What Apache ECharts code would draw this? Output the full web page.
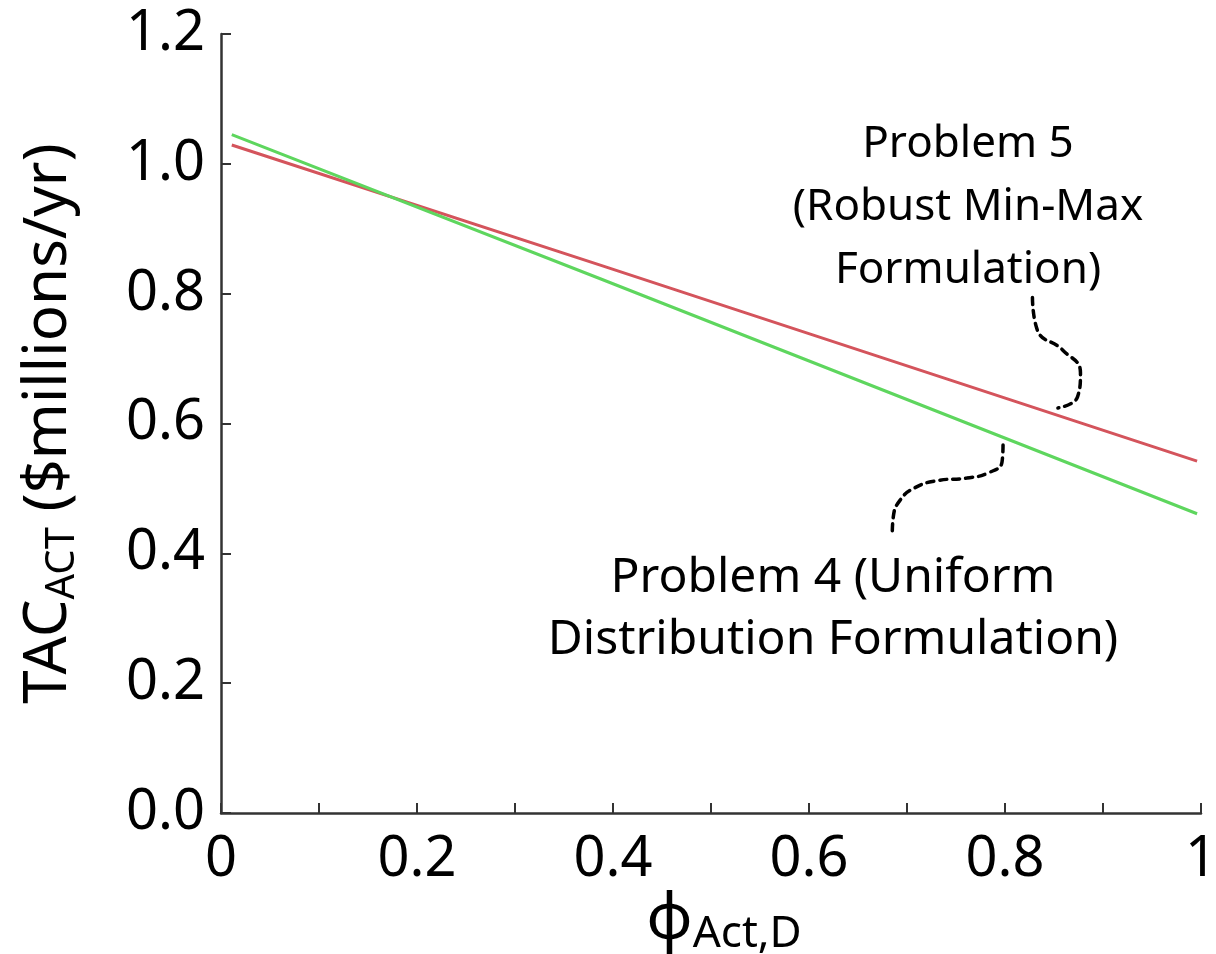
<!DOCTYPE html>
<html>
<head>
<meta charset="utf-8">
<script src="https://cdn.jsdelivr.net/npm/echarts@6/dist/echarts.min.js"></script>
<style>html,body{margin:0;padding:0;background:#fff}#c{width:1216px;height:954px}</style>
</head>
<body>
<div id="c"></div>
<script>
// Data
const phiValues = [0.011, 0.387, 0.996];
const problem4Values = [1.045, 0.823, 0.461];   // Uniform distribution (green)
const problem5Values = [1.029, 0.844, 0.542];   // Robust min-max (red)

// Annotation leader curves (data coordinates)
const leader5X = [0.828, 0.833, 0.859, 0.877, 0.874, 0.854];
const leader5Y = [0.794, 0.744, 0.713, 0.678, 0.641, 0.624];
const leader4X = [0.798, 0.797, 0.783, 0.761, 0.731, 0.708, 0.693, 0.686, 0.685];
const leader4Y = [0.567, 0.541, 0.524, 0.516, 0.512, 0.501, 0.482, 0.456, 0.433];

const xTickLabels = {0: '0', 2: '0.2', 4: '0.4', 6: '0.6', 8: '0.8', 10: '1'};
const yTickLabels = ['0.0', '0.2', '0.4', '0.6', '0.8', '1.0', '1.2'];

const label5 = 'Problem 5\n(Robust Min-Max\nFormulation)';
const label4 = 'Problem 4 (Uniform\nDistribution Formulation)';

const FONT = '"Noto Sans", "Open Sans", sans-serif';
const zip = (a, b) => a.map((v, i) => [v, b[i]]);

const chart = echarts.init(document.getElementById('c'), null, {renderer: 'canvas'});
chart.setOption({
  animation: false,
  backgroundColor: '#ffffff',
  grid: {left: 221, right: 15, top: 34, bottom: 141, containLabel: false, outerBoundsMode: 'none'},
  xAxis: {
    type: 'value', min: 0, max: 1, interval: 0.1,
    axisLine: {show: true, lineStyle: {color: '#333', width: 2.5}},
    axisTick: {show: true, inside: true, length: 10, lineStyle: {color: '#333', width: 2}},
    splitLine: {show: false},
    axisLabel: {
      show: true, margin: 19, color: '#000', fontFamily: FONT, fontSize: 56,
      formatter: v => { const k = Math.round(v * 10); return xTickLabels[k] !== undefined ? xTickLabels[k] : ''; }
    },
    name: '{a|ϕ}{b|Act,D}',
    nameLocation: 'middle', nameGap: 73, nameMoveOverlap: false,
    nameTextStyle: {
      fontFamily: FONT, color: '#000', verticalAlign: 'top', padding: [0, 0, 0, 26],
      rich: {
        a: {fontSize: 64, lineHeight: 70, fontFamily: FONT, color: '#000'},
        b: {fontSize: 44, lineHeight: 30, verticalAlign: 'bottom', fontFamily: FONT, color: '#000'}
      }
    }
  },
  yAxis: {
    type: 'value', min: 0, max: 1.2, interval: 0.2,
    axisLine: {show: true, lineStyle: {color: '#333', width: 2.5}},
    axisTick: {show: true, inside: true, length: 10, lineStyle: {color: '#333', width: 2}},
    splitLine: {show: false},
    axisLabel: {
      show: true, margin: 16, color: '#000', fontFamily: FONT, fontSize: 56,
      formatter: v => yTickLabels[Math.round(v * 5)]
    },
    name: '{a|TAC}{b|ACT}{a| ($millions/yr)}',
    nameLocation: 'middle', nameGap: 138, nameMoveOverlap: false,
    nameTextStyle: {
      fontFamily: FONT, color: '#000',
      rich: {
        a: {fontSize: 60, lineHeight: 68, fontFamily: FONT, color: '#000'},
        b: {fontSize: 40, lineHeight: 46, verticalAlign: 'bottom', fontFamily: FONT, color: '#000'}
      }
    }
  },
  series: [
    {
      name: 'Problem 5', type: 'line', data: zip(phiValues, problem5Values),
      showSymbol: false, symbol: 'none', z: 3,
      lineStyle: {color: '#d4545c', width: 3}
    },
    {
      name: 'Problem 4', type: 'line', data: zip(phiValues, problem4Values),
      showSymbol: false, symbol: 'none', z: 4,
      lineStyle: {color: '#5ed65e', width: 3}
    },
    {
      name: 'leader5', type: 'line', data: zip(leader5X, leader5Y), smooth: 0.5,
      showSymbol: false, symbol: 'none', z: 5,
      lineStyle: {color: '#000', width: 3.5, type: [7, 6], cap: 'round'}
    },
    {
      name: 'leader4', type: 'line', data: zip(leader4X, leader4Y), smooth: 0.5,
      showSymbol: false, symbol: 'none', z: 5,
      lineStyle: {color: '#000', width: 3.5, type: [7, 6], cap: 'round'}
    }
  ],
  graphic: [
    {
      type: 'text', x: 968, y: 113,
      style: {text: label5, fontFamily: FONT, fontSize: 44, lineHeight: 63, fill: '#000', align: 'center', verticalAlign: 'top'}
    },
    {
      type: 'text', x: 833, y: 547,
      style: {text: label4, fontFamily: FONT, fontSize: 48, lineHeight: 62, fill: '#000', align: 'center', verticalAlign: 'top'}
    }
  ]
});
</script>
</body>
</html>
